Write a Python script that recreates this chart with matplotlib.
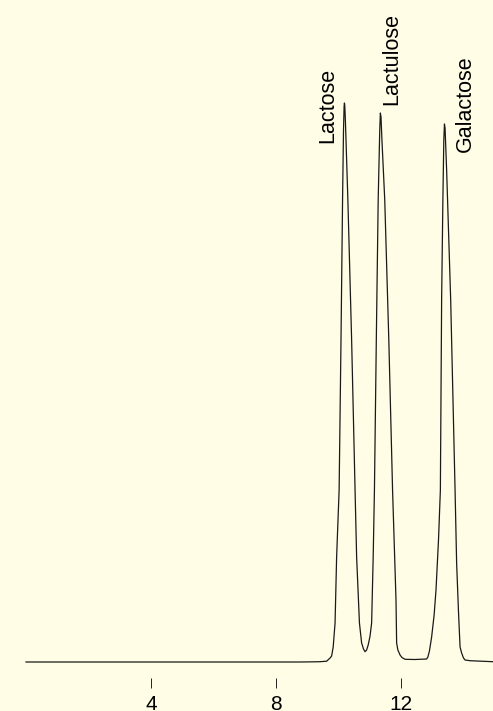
import numpy as np
import matplotlib
matplotlib.use('Agg')
import matplotlib.pyplot as plt

# chromatogram trace: retention time (min), detector signal
time = [0.00, 2.37, 5.57, 8.77, 9.25, 9.41, 9.62, 9.73, 9.78, 9.83, 9.89, 9.94,
        10.02, 10.08, 10.13, 10.16, 10.18, 10.19, 10.20, 10.22, 10.30, 10.42,
        10.53, 10.58, 10.67, 10.74, 10.80, 10.85, 10.90, 10.95, 11.01, 11.06,
        11.11, 11.15, 11.21, 11.27, 11.32, 11.34, 11.36, 11.39, 11.48, 11.61,
        11.73, 11.84, 11.86, 11.90, 11.97, 12.03, 12.13, 12.45, 12.82, 12.86,
        12.91, 12.98, 13.06, 13.12, 13.20, 13.26, 13.30, 13.34, 13.37, 13.39,
        13.41, 13.46, 13.52, 13.59, 13.73, 13.78, 13.84, 13.89, 13.94, 14.00,
        14.05, 14.21, 14.42, 14.94, 15.20]
signal = [0, 0, 0, 0, 0.2, 0.3, 0.8, 4, 6, 15, 39, 105,
          172, 322, 462, 532, 556, 559, 557, 542, 462, 322,
          172, 105, 39, 19, 13, 10.3, 12, 17, 26, 39,
          105, 172, 322, 462, 532, 549, 545, 522, 462, 322,
          172, 62, 19, 12, 7, 4.5, 2.7, 2.5, 3, 5,
          11, 25, 47, 72, 122, 172, 362, 462, 522, 538,
          534, 492, 432, 362, 172, 99, 50, 15, 9, 4,
          2, 1.3, 1, 0.3, 0]

peak_names = ['Lactose', 'Lactulose', 'Galactose']
label_x = [9.66, 11.71, 14.05]
label_y = [519, 557, 510]
xticks = [4, 8, 12]

bg = '#FFFDE5'
plt.rcParams['font.family'] = ['Liberation Sans', 'DejaVu Sans']

fig = plt.figure(figsize=(4.93, 7.11), dpi=100, facecolor=bg)
ax = fig.add_axes([0, 33/711, 1, 678/711])
ax.set_facecolor(bg)

ax.plot(time, signal, color='#1a1a1a', lw=0.9)

for name, lx, ly in zip(peak_names, label_x, label_y):
    ax.text(lx, ly, name, rotation=90, ha='center', va='bottom', fontsize=15.5, color='black')

ax.set_xlim(-0.832, 14.944)
ax.set_ylim(-16, 662)
for s in ax.spines.values():
    s.set_visible(False)
ax.set_xticks(xticks)
ax.set_xticklabels([str(t) for t in xticks])
ax.set_yticks([])
ax.tick_params(axis='x', direction='out', length=7.0, width=0.7, color='#222222',
               pad=5.5, labelsize=15)

fig.savefig('out.png', dpi=100, facecolor=bg)
